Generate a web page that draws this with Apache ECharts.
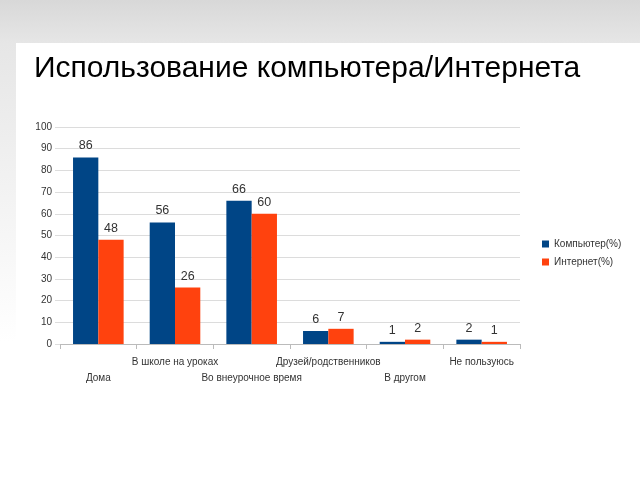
<!DOCTYPE html>
<html><head><meta charset="utf-8">
<script src="https://cdn.jsdelivr.net/npm/echarts@6/dist/echarts.min.js"></script>
<style>html,body{margin:0;padding:0;background:#fff}#c{width:640px;height:480px}</style>
</head><body><div id="c"></div>
<script>
const categories = ['Дома','В школе на уроках','Во внеурочное время','Друзей/родственников','В другом','Не пользуюсь'];
const computer = [86, 56, 66, 6, 1, 2];
const internet = [48, 26, 60, 7, 2, 1];
const seriesNames = ['Компьютер(%)', 'Интернет(%)'];
const chartTitle = 'Использование компьютера/Интернета';

const chart = echarts.init(document.getElementById('c'), null, {renderer:'canvas'});
const labelStyle = {show:true, position:'top', color:'#333', fontSize:12.5, fontFamily:'Liberation Sans', distance:5};
chart.setOption({
  animation:false,
  backgroundColor:'#fff',
  graphic:[
    {type:'rect', shape:{x:0,y:0,width:640,height:43}, z:-10,
     style:{fill:new echarts.graphic.LinearGradient(0,0,0,1,[{offset:0,color:'#d8d8d8'},{offset:1,color:'#e6e6e6'}])}},
    {type:'rect', shape:{x:0,y:43,width:16,height:300}, z:-10,
     style:{fill:new echarts.graphic.LinearGradient(0,0,0,1,[{offset:0,color:'#e6e6e6'},{offset:1,color:'#ffffff'}])}},
    {type:'text', left:34, top:54, style:{text:chartTitle, fontSize:30, fontFamily:'Liberation Sans', fill:'#000'}}
  ],
  legend:{
    orient:'vertical', left:537, top:234, itemWidth:7, itemHeight:7, itemGap:8,
    icon:'rect',
    textStyle:{fontSize:10, color:'#333', fontFamily:'Liberation Sans'},
    data:seriesNames
  },
  grid:{left:60, right:120, top:127, bottom:136},
  xAxis:{
    type:'category', data:categories,
    axisLine:{lineStyle:{color:'#bbb'}},
    axisTick:{show:true, length:5, lineStyle:{color:'#bbb'}},
    axisLabel:{interval:0, fontSize:10, color:'#333', fontFamily:'Liberation Sans', margin:10, lineHeight:16,
      formatter:function(v){ const i = categories.indexOf(v); return i%2===0 ? '\n'+v : v; }}
  },
  yAxis:{
    type:'value', min:0, max:100, interval:10,
    axisLine:{show:false},
    axisTick:{show:true, length:5, lineStyle:{color:'#ddd'}},
    splitLine:{lineStyle:{color:'#dcdcdc'}},
    axisLabel:{fontSize:10, color:'#333', fontFamily:'Liberation Sans', margin:8}
  },
  series:[
    {name:seriesNames[0], type:'bar', data:computer, barGap:'0%', barCategoryGap:'34%',
     itemStyle:{color:'#004586'}, label:labelStyle},
    {name:seriesNames[1], type:'bar', data:internet,
     itemStyle:{color:'#ff420e'}, label:labelStyle}
  ]
});
</script></body></html>
